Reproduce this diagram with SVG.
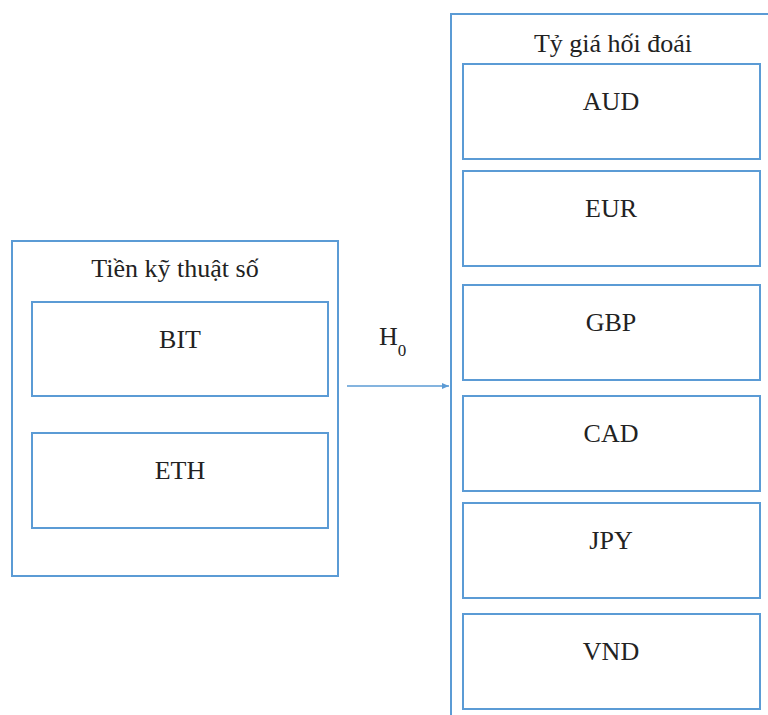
<svg xmlns="http://www.w3.org/2000/svg" width="768" height="715" viewBox="0 0 768 715">
<style>
.box{fill:#fff;stroke:#5b9bd5;stroke-width:2}
.t{font-family:'Liberation Serif','DejaVu Serif',serif;font-size:26px;fill:#222;text-anchor:middle}
</style>
<defs>
<marker id="ah" markerWidth="8" markerHeight="8" refX="7" refY="4" orient="auto" markerUnits="userSpaceOnUse">
<path d="M0,1 L7,4 L0,7 z" fill="#5b9bd5"/>
</marker>
</defs>
<rect width="768" height="715" fill="#fff"/>
<g id="crypto">
<rect class="box" x="12" y="241" width="326" height="335"/>
<text class="t" x="175" y="277" font-family="Liberation Serif">Tiền kỹ thuật số</text>
</g>
<g id="bit">
<rect class="box" x="32" y="302" width="296" height="94"/>
<text class="t" x="180" y="348">BIT</text>
</g>
<g id="eth">
<rect class="box" x="32" y="433" width="296" height="95"/>
<text class="t" x="180" y="479">ETH</text>
</g>
<g id="fx">
<rect class="box" x="451" y="14" width="330" height="720"/>
<text class="t" x="613" y="52">Tỷ giá hối đoái</text>
</g>
<g id="aud">
<rect class="box" x="463" y="64" width="297" height="95"/>
<text class="t" x="611" y="110">AUD</text>
</g>
<g id="eur">
<rect class="box" x="463" y="171" width="297" height="95"/>
<text class="t" x="611" y="217">EUR</text>
</g>
<g id="gbp">
<rect class="box" x="463" y="285" width="297" height="95"/>
<text class="t" x="611" y="331">GBP</text>
</g>
<g id="cad">
<rect class="box" x="463" y="396" width="297" height="95"/>
<text class="t" x="611" y="442">CAD</text>
</g>
<g id="jpy">
<rect class="box" x="463" y="503" width="297" height="95"/>
<text class="t" x="611" y="549">JPY</text>
</g>
<g id="vnd">
<rect class="box" x="463" y="614" width="297" height="95"/>
<text class="t" x="611" y="660">VND</text>
</g>
<g id="connectors">
<line x1="347" y1="386" x2="449" y2="386" stroke="#5b9bd5" stroke-width="1.5" marker-end="url(#ah)"/>
<text class="t" x="379" y="345" style="text-anchor:start">H<tspan font-size="17" dy="11">0</tspan></text>
</g>
</svg>
